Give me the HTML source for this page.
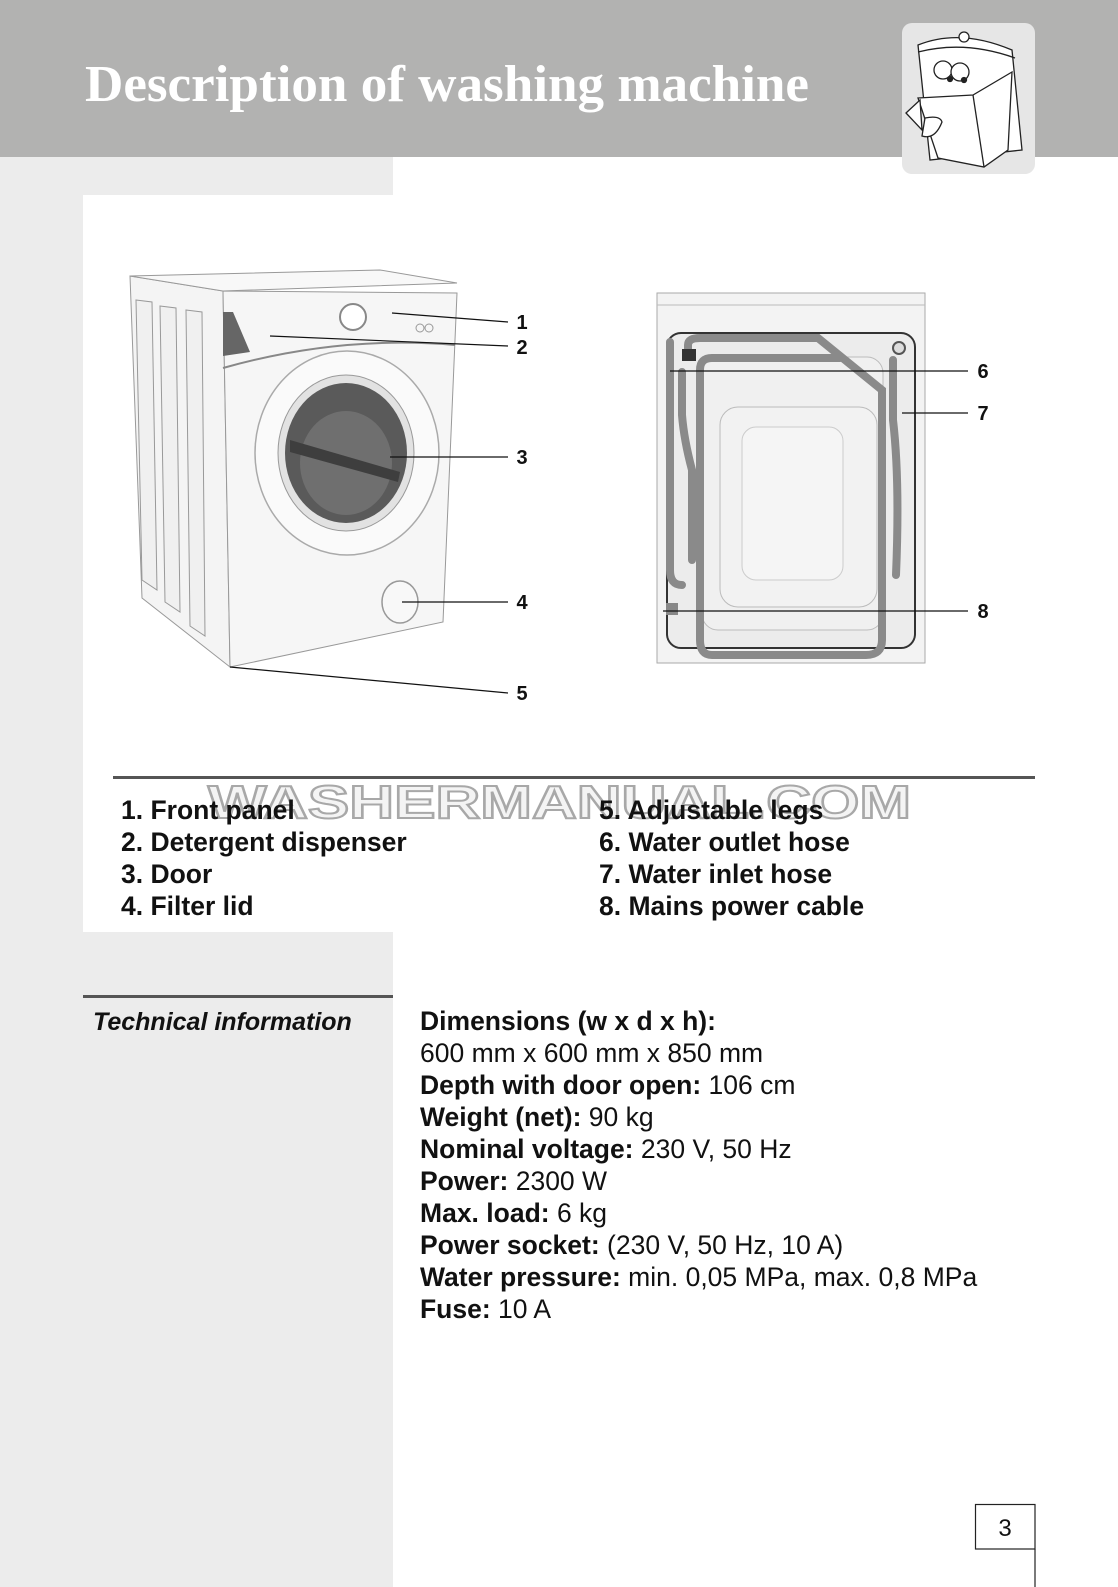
<!DOCTYPE html>
<html><head><meta charset="utf-8"><style>
html,body{margin:0;padding:0;background:#fff}
svg{display:block}
</style></head><body>
<svg width="1118" height="1587" viewBox="0 0 1118 1587" xmlns="http://www.w3.org/2000/svg" font-family="Liberation Sans, Arial, sans-serif">
<rect x="0" y="0" width="1118" height="1587" fill="#fff"/>
<rect x="0" y="157" width="393" height="1430" fill="#ececec"/>
<rect x="0" y="0" width="1118" height="157" fill="#b2b2b1"/>
<text x="85" y="101" font-family="Liberation Serif, serif" font-weight="bold" font-size="52" fill="#fff" textLength="724" lengthAdjust="spacingAndGlyphs">Description of washing machine</text>
<!-- icon -->
<rect x="902" y="23" width="133" height="151" rx="10" fill="#e6e6e6"/>
<g fill="#fff" stroke="#222" stroke-width="1.3">
<path d="M918 45 Q960 28 1012 50 L1022 150 L930 160 Z"/>
<circle cx="964" cy="37" r="5"/>
<path d="M918 52 Q965 40 1015 58" fill="none"/>
<circle cx="943" cy="70" r="9"/><circle cx="960" cy="72" r="9"/>
<circle cx="950" cy="79" r="2.5" fill="#222"/><circle cx="964" cy="80" r="2.5" fill="#222"/>
<path d="M918 98 L973 95 L1012 72 L1008 150 L984 167 L938 158 Z"/>
<path d="M973 95 L984 167" fill="none"/>
<path d="M906 113 L920 100 L922 130 Z"/>
<path d="M925 118 Q940 115 942 122 Q935 140 922 136 Z"/>
</g>
<!-- white content box -->
<rect x="83" y="195" width="1035" height="737" fill="#fff"/>
<!-- front machine -->
<g stroke="#999" stroke-width="1">
<polygon points="130,276 223,291 230,667 142,598" fill="#f4f4f4"/>
<polygon points="130,276 380,270 457,283 223,291" fill="#f8f8f8"/>
<polygon points="223,291 457,293 443,622 230,667" fill="#f6f6f6"/>
<polygon points="136,300 152,302 157,590 142,580" fill="#f0f0f0"/>
<polygon points="160,306 176,308 180,612 165,602" fill="#f0f0f0"/>
<polygon points="186,310 202,312 205,636 190,626" fill="#f0f0f0"/>
</g>
<path d="M223 368 Q340 335 455 345" stroke="#888" stroke-width="2" fill="none"/>
<polygon points="223,312 233,312 250,352 223,356" fill="#666"/>
<circle cx="353" cy="317" r="13" fill="#fff" stroke="#888" stroke-width="2"/>
<circle cx="420" cy="328" r="4" fill="none" stroke="#999"/><circle cx="429" cy="328" r="4" fill="none" stroke="#999"/>
<ellipse cx="347" cy="453" rx="92" ry="102" fill="#fafafa" stroke="#aaa" stroke-width="1.5"/>
<ellipse cx="346" cy="453" rx="68" ry="78" fill="#e2e2e2" stroke="#999"/>
<ellipse cx="346" cy="453" rx="61" ry="70" fill="#5a5a5a"/>
<ellipse cx="346" cy="463" rx="46" ry="52" fill="#6f6f6f"/>
<path d="M290 440 L400 472 L398 482 L290 452 Z" fill="#3e3e3e"/>
<ellipse cx="400" cy="602" rx="18" ry="21" fill="#f8f8f8" stroke="#999" stroke-width="1.5"/>
<g stroke="#111" stroke-width="1.2">
<line x1="392" y1="313" x2="508" y2="322"/>
<line x1="270" y1="336" x2="508" y2="346"/>
<line x1="390" y1="457" x2="508" y2="457"/>
<line x1="402" y1="602" x2="508" y2="602"/>
<line x1="230" y1="667" x2="508" y2="693"/>
</g>
<g font-weight="bold" font-size="20" fill="#111" text-anchor="middle">
<text x="522" y="329">1</text><text x="522" y="354">2</text><text x="522" y="464">3</text><text x="522" y="609">4</text><text x="522" y="700">5</text>
</g>
<!-- back machine -->
<rect x="657" y="293" width="268" height="370" fill="#f3f3f3" stroke="#aaa"/>
<line x1="657" y1="305" x2="925" y2="305" stroke="#bbb"/>
<rect x="667" y="333" width="248" height="315" rx="14" fill="#ececec" stroke="#333" stroke-width="2"/>
<rect x="702" y="357" width="181" height="273" rx="16" fill="#f0f0f0" stroke="#bbb"/>
<rect x="720" y="407" width="157" height="200" rx="18" fill="#f2f2f2" stroke="#bbb"/>
<rect x="742" y="427" width="101" height="153" rx="14" fill="#f5f5f5" stroke="#ccc"/>
<g fill="none" stroke="#8a8a8a" stroke-width="8" stroke-linecap="round">
<path d="M688 352 L688 345 Q688 338 700 338 L818 338 L882 390 L882 640 Q882 655 866 655 L712 655 Q700 655 700 640 L700 370 Q700 358 712 358 L840 358"/>
<path d="M682 372 L682 415 Q684 440 692 470 L692 560"/>
<path d="M670 342 L670 570 Q670 585 682 585"/>
<path d="M893 360 L893 420 Q900 480 896 575"/>
</g>
<rect x="682" y="349" width="14" height="12" fill="#333"/>
<circle cx="899" cy="348" r="6" fill="#ddd" stroke="#555" stroke-width="2"/>
<rect x="666" y="603" width="12" height="12" fill="#888"/>
<g stroke="#111" stroke-width="1.2">
<line x1="670" y1="371" x2="968" y2="371"/>
<line x1="902" y1="413" x2="968" y2="413"/>
<line x1="663" y1="611" x2="968" y2="611"/>
</g>
<g font-weight="bold" font-size="20" fill="#111" text-anchor="middle">
<text x="983" y="378">6</text><text x="983" y="420">7</text><text x="983" y="618">8</text>
</g>
<!-- separator -->
<rect x="113" y="776" width="922" height="3" fill="#555"/>
<text x="208" y="818" font-weight="bold" font-size="46" fill="#f4f4f4" stroke="#a8a8a8" stroke-width="2" textLength="703" lengthAdjust="spacingAndGlyphs">WASHERMANUAL.COM</text>
<g font-weight="bold" font-size="26.5" fill="#111">
<text x="121" y="819">1. Front panel</text>
<text x="121" y="851">2. Detergent dispenser</text>
<text x="121" y="883">3. Door</text>
<text x="121" y="915">4. Filter lid</text>
<text x="599" y="819">5. Adjustable legs</text>
<text x="599" y="851">6. Water outlet hose</text>
<text x="599" y="883">7. Water inlet hose</text>
<text x="599" y="915">8. Mains power cable</text>
</g>
<rect x="83" y="995" width="310" height="3" fill="#555"/>
<text x="93" y="1030" font-weight="bold" font-style="italic" font-size="25" fill="#111">Technical information</text>
<g font-size="26.5" fill="#111">
<text x="420" y="1030"><tspan font-weight="bold">Dimensions (w x d x h):</tspan></text>
<text x="420" y="1062">600 mm x 600 mm x 850 mm</text>
<text x="420" y="1094"><tspan font-weight="bold">Depth with door open:</tspan> 106 cm</text>
<text x="420" y="1126"><tspan font-weight="bold">Weight (net):</tspan> 90 kg</text>
<text x="420" y="1158"><tspan font-weight="bold">Nominal voltage:</tspan> 230 V, 50 Hz</text>
<text x="420" y="1190"><tspan font-weight="bold">Power:</tspan> 2300 W</text>
<text x="420" y="1222"><tspan font-weight="bold">Max. load:</tspan> 6 kg</text>
<text x="420" y="1254"><tspan font-weight="bold">Power socket:</tspan> (230 V, 50 Hz, 10 A)</text>
<text x="420" y="1286"><tspan font-weight="bold">Water pressure:</tspan> min. 0,05 MPa, max. 0,8 MPa</text>
<text x="420" y="1318"><tspan font-weight="bold">Fuse:</tspan> 10 A</text>
</g>
<rect x="975.5" y="1504.5" width="59.5" height="44.5" fill="#fff" stroke="#222" stroke-width="1.2"/>
<line x1="1035" y1="1549" x2="1035" y2="1587" stroke="#222" stroke-width="1.2"/>
<text x="1005" y="1536" font-size="24" text-anchor="middle" fill="#111">3</text>
</svg>
</body></html>
